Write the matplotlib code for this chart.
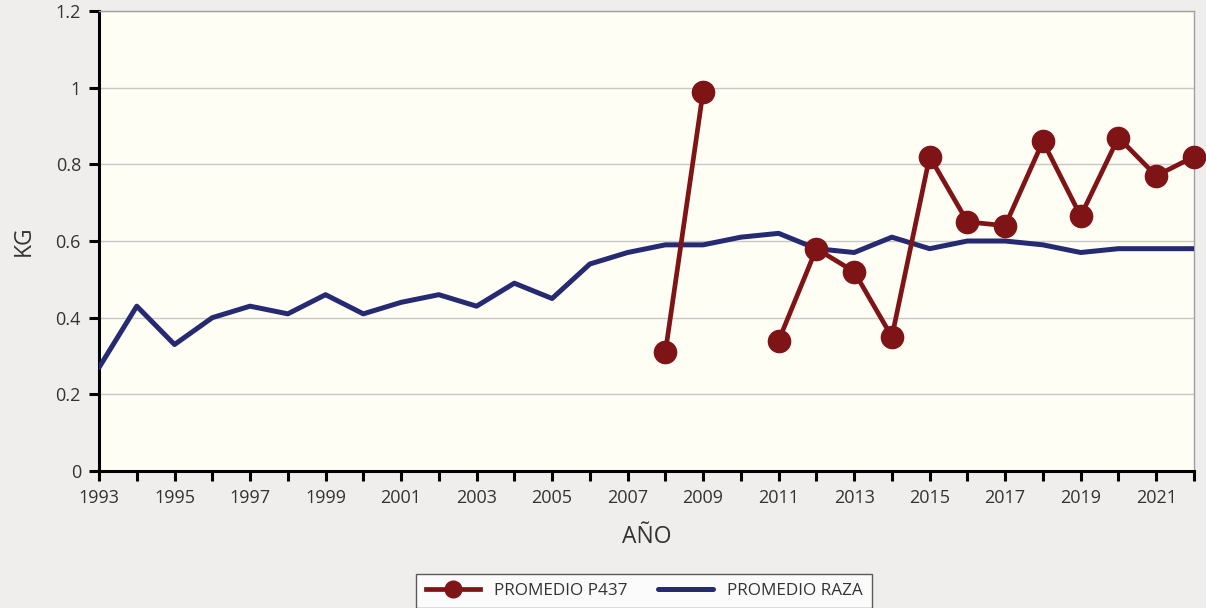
import numpy as np
import matplotlib.pyplot as plt

plt.rcParams['font.family'] = ['Open Sans', 'DejaVu Sans']

# Data
years_raza = list(range(1993, 2023))
promedio_raza = [0.27, 0.43, 0.33, 0.40, 0.43, 0.41, 0.46, 0.41, 0.44, 0.46,
                 0.43, 0.49, 0.45, 0.54, 0.57, 0.59, 0.59, 0.61, 0.62, 0.58,
                 0.57, 0.61, 0.58, 0.60, 0.60, 0.59, 0.57, 0.58, 0.58, 0.58]

years_p437 = list(range(2008, 2023))
promedio_p437 = [0.31, 0.99, np.nan, 0.34, 0.58, 0.52, 0.35, 0.82, 0.65, 0.64,
                 0.86, 0.665, 0.87, 0.77, 0.82]

RED = '#7f1416'
BLUE = '#262a72'

fig = plt.figure(figsize=(12.06, 6.08), dpi=100)
fig.patch.set_facecolor('#efeeed')
ax = fig.add_axes([0.0821, 0.2253, 0.9079, 0.7566])
ax.set_facecolor('#fffef5')

ax.plot(years_p437, promedio_p437, color=RED, lw=3.4, marker='o', markersize=16,
        label='PROMEDIO P437', clip_on=False, zorder=4)
ax.plot(years_raza, promedio_raza, color=BLUE, lw=3.6, label='PROMEDIO RAZA',
        solid_capstyle='round', zorder=3)

ax.set_xlim(1993, 2022)
ax.set_ylim(0, 1.2)
ax.set_xticks(range(1993, 2023), minor=True)
ax.set_xticks(range(1993, 2022, 2))
ax.set_yticks([0, 0.2, 0.4, 0.6, 0.8, 1.0, 1.2])
ax.set_yticklabels(['0', '0.2', '0.4', '0.6', '0.8', '1', '1.2'])
ax.grid(axis='y', color='#c8c8c4', lw=1)
ax.set_axisbelow(True)

for s in ['left', 'bottom']:
    ax.spines[s].set_linewidth(2.2)
    ax.spines[s].set_color('black')
for s in ['top', 'right']:
    ax.spines[s].set_linewidth(1)
    ax.spines[s].set_color('#a0a0a0')

ax.tick_params(axis='both', which='both', direction='out', width=2.2, length=7,
               labelsize=13, colors='black', labelcolor='#333333')
ax.tick_params(axis='x', pad=6)
ax.tick_params(axis='y', pad=6)

ax.set_xlabel('AÑO', fontsize=16.5, color='#333333', labelpad=13)
ax.set_ylabel('KG', fontsize=16.5, color='#333333', labelpad=14)

leg = fig.legend(loc='center', bbox_to_anchor=(0.534, 0.028), ncol=2,
                 frameon=True, fancybox=False, fontsize=12.3,
                 handlelength=3.2, columnspacing=1.8, borderpad=0.55,
                 markerscale=0.75)
leg.get_frame().set_edgecolor('#333333')
leg.get_frame().set_linewidth(1)
for t in leg.get_texts():
    t.set_color('#333333')

fig.savefig('out.png', dpi=100, facecolor=fig.get_facecolor())
